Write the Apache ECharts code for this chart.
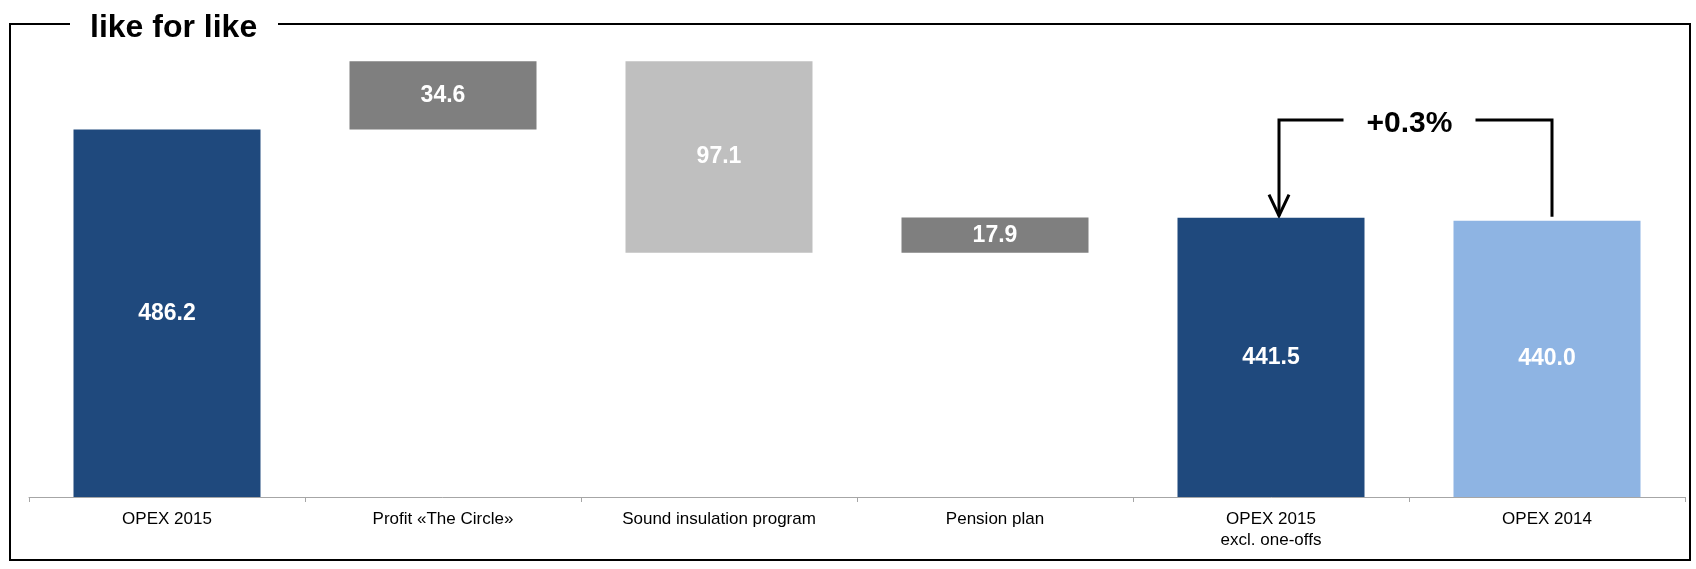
<!DOCTYPE html>
<html>
<head>
<meta charset="UTF-8">
<title>like for like</title>
<style>
  html, body { margin: 0; padding: 0; background: #fff; }
  #main { width: 1696px; height: 569px; }
</style>
</head>
<body>
<div id="main"></div>
<script src="https://cdn.jsdelivr.net/npm/echarts@6/dist/echarts.min.js"></script>
<script>
// waterfall data
var categories = ['OPEX 2015', 'Profit «The Circle»', 'Sound insulation program', 'Pension plan', 'OPEX 2015\nexcl. one-offs', 'OPEX 2014'];
var barValues = [486.2, 34.6, 97.1, 17.9, 441.5, 440.0];
var baseValues = [0, 486.2, 423.7, 423.7, 0, 0];
var changeText = '+0.3%';
var titleText = 'like for like';

var barColors = ['#1f497d', '#7f7f7f', '#bfbfbf', '#7f7f7f', '#1f497d', '#8eb4e3'];
var font = 'Liberation Sans, Arial, sans-serif';

var chart = echarts.init(document.getElementById('main'));
var option = {
  animation: false,
  grid: { left: 29, right: 11, top: 43, bottom: 72 },
  xAxis: {
    type: 'category',
    data: categories,
    axisLine: { lineStyle: { color: '#a6a6a6', width: 1 } },
    axisTick: { show: true, length: 5, lineStyle: { color: '#a6a6a6' } },
    axisLabel: {
      color: '#000',
      fontSize: 17,
      fontFamily: font,
      lineHeight: 21,
      margin: 12,
      interval: 0
    }
  },
  yAxis: {
    type: 'value',
    min: 300,
    max: 530,
    show: false,
    splitLine: { show: false }
  },
  series: [
    {
      type: 'bar',
      stack: 'wf',
      barWidth: 187,
      silent: true,
      itemStyle: { color: 'transparent' },
      data: baseValues
    },
    {
      type: 'bar',
      stack: 'wf',
      barWidth: 187,
      data: barValues.map(function (v, i) {
        return { value: v, itemStyle: { color: barColors[i] } };
      }),
      label: {
        show: true,
        position: 'inside',
        color: '#fff',
        fontSize: 23,
        fontWeight: 'bold',
        fontFamily: font,
        formatter: function (p) { return barValues[p.dataIndex].toFixed(1); }
      }
    }
  ]
};
chart.setOption(option);

// bracket with the +0.3% change between the last two bars
var pExcl = chart.convertToPixel({ gridIndex: 0 }, [4, barValues[4]]);
var p2014 = chart.convertToPixel({ gridIndex: 0 }, [5, barValues[5]]);
var xl = pExcl[0] + 8;
var xr = p2014[0] + 5;
var yTop = 120;
var tipY = pExcl[1] - 2;
var rBottom = p2014[1] - 4;
var midX = (xl + xr) / 2 - 6;
var lineStyle = { stroke: '#000', lineWidth: 3, fill: null };

chart.setOption({
  graphic: [
    // frame around the chart, broken by the title
    {
      type: 'polyline',
      shape: { points: [[278, 24], [1690, 24], [1690, 560], [10, 560], [10, 24], [70, 24]] },
      style: { stroke: '#000', lineWidth: 2, fill: null }
    },
    {
      type: 'text',
      x: 90, y: 28,
      style: { text: titleText, fontSize: 32, fontWeight: 'bold', fontFamily: font, fill: '#000', verticalAlign: 'middle' }
    },
    {
      type: 'polyline',
      shape: { points: [[midX - 66, yTop], [xl, yTop], [xl, tipY]] },
      style: lineStyle
    },
    {
      type: 'polyline',
      shape: { points: [[xl - 10, tipY - 21], [xl, tipY], [xl + 10, tipY - 21]] },
      style: lineStyle
    },
    {
      type: 'polyline',
      shape: { points: [[midX + 66, yTop], [xr, yTop], [xr, rBottom]] },
      style: lineStyle
    },
    {
      type: 'text',
      x: midX, y: 124,
      style: { text: changeText, fontSize: 30, fontWeight: 'bold', fontFamily: font, fill: '#000', align: 'center', verticalAlign: 'middle' }
    }
  ]
});
</script>
</body>
</html>
